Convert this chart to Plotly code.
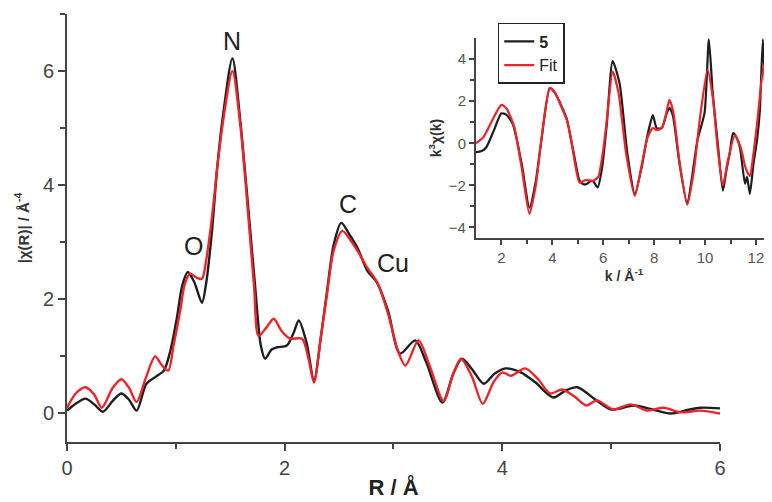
import plotly.graph_objects as go

# ---- main panel: |chi(R)| ----
R_exp = [0, 0.08, 0.17, 0.25, 0.33, 0.42, 0.5, 0.57, 0.64, 0.73, 0.82, 0.89, 0.95, 1.01, 1.06, 1.11, 1.17,
         1.24, 1.28, 1.33, 1.38, 1.43, 1.52, 1.59, 1.66, 1.73, 1.78, 1.82, 1.88, 1.93, 2.02, 2.08, 2.13,
         2.2, 2.27, 2.33, 2.39, 2.45, 2.52, 2.6, 2.67, 2.76, 2.85, 2.95, 3.06, 3.2, 3.3, 3.45, 3.55, 3.63,
         3.72, 3.83, 3.93, 4.03, 4.17, 4.3, 4.47, 4.58, 4.69, 4.85, 5.0, 5.21, 5.38, 5.55, 5.7, 5.82, 6.0]
chiR_exp = [0.05, 0.17, 0.26, 0.16, 0.03, 0.22, 0.35, 0.24, 0.05, 0.52, 0.65, 0.75, 1.1, 1.68, 2.25, 2.48, 2.3,
            1.94, 2.3, 3.15, 4.3, 5.17, 6.22, 5.17, 3.72, 2.2, 1.2, 0.96, 1.12, 1.16, 1.19, 1.4, 1.63,
            1.25, 0.58, 1.3, 2.15, 2.95, 3.34, 3.12, 2.9, 2.5, 2.29, 1.8, 1.05, 1.28, 0.9, 0.19, 0.7, 0.96,
            0.78, 0.52, 0.7, 0.79, 0.72, 0.55, 0.28, 0.4, 0.46, 0.25, 0.07, 0.14, 0.07, 0.0, 0.06, 0.1, 0.09]

R_fit = [0, 0.08, 0.17, 0.25, 0.32, 0.42, 0.5, 0.57, 0.64, 0.72, 0.81, 0.87, 0.93, 0.98, 1.04, 1.08, 1.13,
         1.19, 1.24, 1.28, 1.33, 1.38, 1.44, 1.52, 1.59, 1.66, 1.72, 1.76, 1.83, 1.9, 1.97, 2.05, 2.16,
         2.22, 2.27, 2.33, 2.39, 2.45, 2.53, 2.6, 2.67, 2.76, 2.85, 2.95, 3.04, 3.11, 3.23, 3.33, 3.46,
         3.55, 3.62, 3.72, 3.82, 3.92, 4.0, 4.08, 4.21, 4.33, 4.44, 4.55, 4.66, 4.77, 4.87, 5.02, 5.18,
         5.33, 5.48, 5.64, 5.82, 6.0]
chiR_fit = [0.1, 0.35, 0.46, 0.33, 0.1, 0.45, 0.6, 0.45, 0.2, 0.6, 1.0, 0.85, 0.75, 1.2, 1.8, 2.25, 2.45,
            2.38, 2.36, 2.7, 3.4, 4.3, 5.2, 6.0, 5.1, 3.6, 2.2, 1.36, 1.5, 1.66, 1.45, 1.31, 1.31,
            0.95, 0.54, 1.3, 2.1, 2.85, 3.2, 3.05, 2.85, 2.55, 2.3, 1.75, 1.1, 0.84, 1.28, 0.85, 0.22,
            0.7, 0.96, 0.65, 0.17, 0.55, 0.72, 0.66, 0.79, 0.6, 0.35, 0.42, 0.3, 0.14, 0.23, 0.07, 0.16,
            0.05, 0.1, 0.02, 0.05, 0.0]

peak_labels = ["N", "O", "C", "Cu"]
peak_R = [1.52, 1.16, 2.58, 3.0]
peak_y = [6.52, 2.94, 3.67, 2.64]

# ---- inset: k^3 chi(k) ----
k_exp = [1.0, 1.2, 1.4, 1.7, 2.0, 2.2, 2.45, 2.8, 3.1, 3.35, 3.57, 3.9, 4.1, 4.37, 4.56, 4.8, 5.07, 5.22,
         5.35, 5.5, 5.6, 5.78, 5.95, 6.13, 6.37, 6.64, 6.95, 7.24, 7.5, 7.7, 7.83, 7.95, 8.1, 8.3, 8.5,
         8.6, 8.73, 9.0, 9.3, 9.5, 9.7, 9.98, 10.15, 10.3, 10.5, 10.7, 10.85, 10.97, 11.1, 11.25, 11.37,
         11.57, 11.65, 11.76, 11.9, 12.04, 12.15, 12.27, 12.35, 12.43, 12.52, 12.63]
chik_exp = [-0.42, -0.38, -0.2, 0.6, 1.42, 1.35, 0.9, -1.0, -3.06, -1.8, 0.14, 2.62, 2.4, 1.74, 1.18, -0.2,
            -1.78, -1.95, -1.93, -1.8, -1.8, -2.1, -1.2, 0.77, 3.9, 2.86, -0.5, -2.4, -1.2, 0.14, 0.86,
            1.34, 0.72, 0.72, 1.44, 1.68, 1.34, -1.0, -2.9, -1.5, 0.14, 1.44, 4.94, 2.4, 0.0, -2.25, -1.2,
            -0.48, 0.48, 0.25, -0.19, -1.92, -1.6, -2.4, -1.0, 0.14, 1.5, 4.94, 3.0, 1.92, 1.0, -1.8]

k_fit = [1.0, 1.3, 1.6, 2.0, 2.2, 2.5, 2.8, 3.1, 3.35, 3.57, 3.9, 4.1, 4.4, 4.6, 4.8, 5.07, 5.3, 5.6, 5.8,
         6.0, 6.15, 6.37, 6.6, 6.9, 7.24, 7.5, 7.75, 7.95, 8.1, 8.3, 8.45, 8.6, 8.75, 9.0, 9.3, 9.55, 9.8,
         10.1, 10.3, 10.5, 10.7, 10.9, 11.17, 11.4, 11.6, 11.76, 11.9, 12.05, 12.3, 12.45, 12.63]
chik_fit = [0.0, 0.3, 1.0, 1.82, 1.65, 0.8, -1.2, -3.36, -2.0, 0.2, 2.62, 2.4, 1.6, 1.0, -0.3, -1.87, -1.75,
            -1.78, -1.6, -0.3, 1.2, 3.4, 2.4, -0.5, -2.5, -1.1, 0.3, 0.72, 0.62, 0.72, 1.3, 2.06, 1.5, -0.9,
            -2.9, -1.4, 1.2, 3.5, 2.2, -0.3, -2.0, -0.8, 0.38, -0.2, -1.2, -1.55, -0.5, 1.0, 3.7, 2.3, -1.6]

BLACK = "#1e1e1e"
RED = "#e8262c"
AXC = "#444444"
FONT = "Liberation Sans, Arial, sans-serif"

fig = go.Figure()
fig.add_trace(go.Scatter(x=R_exp, y=chiR_exp, mode="lines", showlegend=False,
                         line=dict(color=BLACK, width=2.4, shape="spline", smoothing=0.8)))
fig.add_trace(go.Scatter(x=R_fit, y=chiR_fit, mode="lines", showlegend=False,
                         line=dict(color=RED, width=2.4, shape="spline", smoothing=0.8)))
fig.add_trace(go.Scatter(x=k_exp, y=chik_exp, mode="lines", name="<b>5</b>", xaxis="x2", yaxis="y2",
                         line=dict(color=BLACK, width=2.2, shape="spline", smoothing=0.6)))
fig.add_trace(go.Scatter(x=k_fit, y=chik_fit, mode="lines", name="Fit", xaxis="x2", yaxis="y2",
                         line=dict(color=RED, width=2.2, shape="spline", smoothing=0.6)))

for t, x, y in zip(peak_labels, peak_R, peak_y):
    fig.add_annotation(x=x, y=y, xref="x", yref="y", text=t, showarrow=False,
                       font=dict(size=25, color="#222", family=FONT))

axis_common = dict(showgrid=False, zeroline=False, showline=True, linecolor=AXC, linewidth=2,
                   ticks="outside", tickcolor=AXC, tickwidth=2, mirror=False, automargin=False)

# page body has an 8px margin, so the figure is 764x494 and its margins are reduced accordingly
fig.update_layout(
    width=764, height=494,
    margin=dict(l=59, r=0, t=6, b=60, autoexpand=False),
    paper_bgcolor="white", plot_bgcolor="white",
    font=dict(family=FONT, color="#333"),
    xaxis=dict(domain=[0, 0.9262], range=[0, 6], tickvals=[0, 2, 4, 6], ticklen=7,
               minor=dict(dtick=1, ticks="outside", ticklen=5, tickcolor=AXC, tickwidth=2),
               tickfont=dict(size=20, color="#444"),
               title=dict(text="<b>R / Å</b>", font=dict(size=22, color="#222"), standoff=2),
               **axis_common),
    yaxis=dict(domain=[0, 1], range=[-0.5, 7], tickvals=[0, 2, 4, 6], ticklen=7,
               minor=dict(dtick=1, ticks="outside", ticklen=5, tickcolor=AXC, tickwidth=2),
               tickfont=dict(size=20, color="#444"),
               title=dict(text="<b>|χ(R)| / Å<sup>-4</sup></b>", font=dict(size=15, color="#333"), standoff=10),
               **axis_common),
    xaxis2=dict(domain=[0.5801, 1], range=[1, 12.63], anchor="y2", tickvals=[2, 4, 6, 8, 10, 12], ticklen=5,
                minor=dict(tickvals=[3, 5, 7, 9, 11], ticks="outside", ticklen=4, tickcolor=AXC, tickwidth=2),
                tickfont=dict(size=15, color="#555"),
                title=dict(text="<b>k / Å<sup>-1</sup></b>", font=dict(size=14, color="#333"), standoff=2),
                **axis_common),
    yaxis2=dict(domain=[0.4766, 0.944], range=[-4.5, 5], anchor="x2", tickvals=[-4, -2, 0, 2, 4], ticklen=5,
                minor=dict(tickvals=[-3, -1, 1, 3], ticks="outside", ticklen=4, tickcolor=AXC, tickwidth=2),
                tickfont=dict(size=15, color="#555"),
                title=dict(text="<b>k<sup>3</sup>χ(k)</b>", font=dict(size=14, color="#333"), standoff=4),
                **axis_common),
    legend=dict(x=0.611, y=0.979, xanchor="left", yanchor="top", bgcolor="white",
                bordercolor="#222", borderwidth=1.5, font=dict(size=16, color="#222"),
                tracegroupgap=0, itemwidth=30),
)

fig.write_html("out.html")
